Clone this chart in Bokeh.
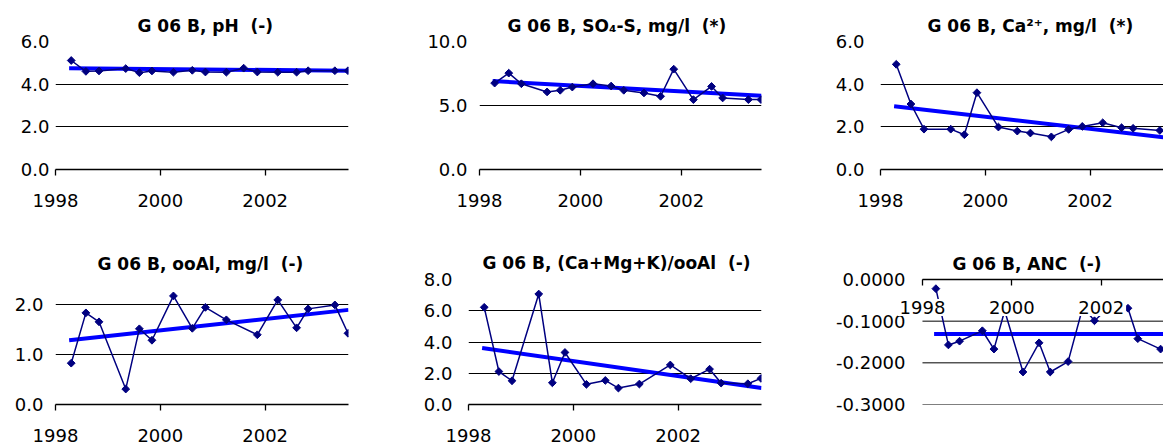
import numpy as np
from bokeh.plotting import figure
from bokeh.layouts import column, row
from bokeh.models import FixedTicker, PrintfTickFormatter, Label, Range1d
from bokeh.embed import file_html
from bokeh.resources import INLINE

FONT = "DejaVu Sans"

# ---------------- data ----------------
x_ticks = [1998, 2000, 2002]
x_tick_labels = ["1998", "2000", "2002"]

dates17 = [1998.30, 1998.58, 1998.83, 1999.34, 1999.60, 1999.84, 2000.25, 2000.61, 2000.86,
           2001.26, 2001.59, 2001.85, 2002.24, 2002.60, 2002.82, 2003.33, 2003.58]
dates16 = [1998.30, 1998.58, 1998.83, 1999.34, 1999.60, 1999.84, 2000.25, 2000.61, 2000.86,
           2001.26, 2001.85, 2002.24, 2002.60, 2002.82, 2003.33, 2003.58]

ph = [5.11, 4.60, 4.62, 4.73, 4.54, 4.62, 4.56, 4.65, 4.57, 4.56, 4.75, 4.57, 4.56, 4.56, 4.63, 4.63, 4.63]
so4s = [6.75, 7.53, 6.70, 6.06, 6.19, 6.44, 6.70, 6.52, 6.19, 5.98, 5.72, 7.84, 5.46, 6.49, 5.59, 5.46, 5.46]
ca = [4.93, 3.07, 1.89, 1.89, 1.63, 3.60, 1.99, 1.80, 1.71, 1.53, 1.88, 2.02, 2.19, 1.96, 1.93, 1.83, 1.80]
ooal = [0.83, 1.84, 1.66, 0.31, 1.52, 1.29, 2.18, 1.53, 1.95, 1.70, 1.40, 2.10, 1.54, 1.92, 2.00, 1.43]
ratio = [6.22, 2.11, 1.52, 7.07, 1.39, 3.33, 1.29, 1.54, 1.05, 1.31, 2.53, 1.65, 2.26, 1.37, 1.33, 1.67]
anc = [-0.022, -0.157, -0.148, -0.123, -0.167, -0.075, -0.222, -0.152, -0.222, -0.197, -0.066,
       -0.099, -0.060, -0.069, -0.142, -0.167, -0.170]

trend_x = [1998.26, 2003.59]
trend_ph = [4.75, 4.63]
trend_so4s = [6.91, 5.77]
trend_ca = [2.96, 1.46]
trend_ooal = [1.29, 1.90]
trend_ratio = [3.61, 1.05]
trend_anc = [-0.131, -0.131]

yticks_ph = [0, 2, 4, 6]
yticks_so4s = [0, 5, 10]
yticks_ca = [0, 2, 4, 6]
yticks_ooal = [0, 1, 2]
yticks_ratio = [0, 2, 4, 6, 8]
yticks_anc = [0, -0.1, -0.2, -0.3]

titles = ["G 06 B, pH \u00a0(-)",
          "G 06 B, SO\u2084-S, mg/l \u00a0(*)",
          "G 06 B, Ca\u00b2\u207a, mg/l \u00a0(*)",
          "G 06 B, ooAl, mg/l \u00a0(-)",
          "G 06 B, (Ca+Mg+K)/ooAl \u00a0(-)",
          "G 06 B, ANC \u00a0(-)"]

NAVY = "#000080"
BLUE = "#0000FF"
X0 = 1998.0


def panel(title, xs, ys, trend, yticks, yfmt, yr, xr, w, h, l, r, t, b,
          ystand, tstand, toff, xabove=False):
    p = figure(width=w, height=h, x_range=Range1d(*xr), y_range=Range1d(*yr),
               output_backend="svg", toolbar_location=None,
               min_border_left=l, min_border_right=r, min_border_top=t, min_border_bottom=b,
               x_axis_location="above" if xabove else "below", title=title)
    p.outline_line_color = None
    p.background_fill_color = "white"
    p.border_fill_color = "white"
    p.title.text_font = FONT
    p.title.text_font_size = "17px"
    p.title.text_font_style = "bold"
    p.title.text_color = "black"
    p.title.align = "left"
    p.title.offset = toff
    p.title.standoff = tstand

    p.xgrid.visible = False
    p.yaxis.ticker = FixedTicker(ticks=yticks)
    p.yaxis.formatter = PrintfTickFormatter(format=yfmt)
    p.yaxis.axis_line_color = None
    p.yaxis.major_tick_line_color = None
    p.yaxis.minor_tick_line_color = None
    p.yaxis.major_tick_out = 0
    p.yaxis.major_label_standoff = ystand
    p.yaxis.major_label_text_font = FONT
    p.yaxis.major_label_text_font_size = "18px"
    p.yaxis.major_label_text_color = "black"
    p.ygrid.grid_line_color = "black"
    p.ygrid.grid_line_width = 1

    p.xaxis.ticker = FixedTicker(ticks=x_ticks)
    p.xaxis.major_label_overrides = dict(zip(x_ticks, x_tick_labels))
    p.xaxis.axis_line_color = "black"
    p.xaxis.axis_line_width = 1.3
    p.xaxis.major_tick_line_color = "black"
    p.xaxis.major_tick_line_width = 1.3
    p.xaxis.minor_tick_line_color = None
    p.xaxis.major_label_text_font = FONT
    p.xaxis.major_label_text_font_size = "18px"
    p.xaxis.major_label_text_color = "black"
    if xabove:
        p.xaxis.bounds = (X0, xr[1])
        p.xaxis.major_tick_in = 6
        p.xaxis.major_tick_out = 0
        p.xaxis.major_label_text_color = None
        p.xaxis.major_label_text_font_size = "1px"
        p.xaxis.major_label_standoff = 0
        # grid lines only over the data span
        p.ygrid.visible = False
        n = len(yticks)
        p.segment(x0=[X0] * n, y0=yticks, x1=[xr[1]] * n, y1=yticks,
                  line_color="black", line_width=1)
    else:
        p.xaxis.major_tick_in = 0
        p.xaxis.major_tick_out = 6
        p.xaxis.major_label_standoff = 18

    p.line(trend_x, trend, line_color=BLUE, line_width=4)
    p.line(xs, ys, line_color=NAVY, line_width=1.5)
    p.scatter(xs, ys, marker="square", angle=np.pi / 4, size=5.5,
              fill_color=NAVY, line_color=NAVY, line_width=1)

    if xabove:
        for xt, lab in zip(x_ticks, x_tick_labels):
            p.add_layout(Label(x=xt, y=0, text=lab, text_align="center",
                               text_baseline="middle", y_offset=-28,
                               text_font=FONT, text_font_size="18px", padding=2,
                               text_color="black", background_fill_color="white"))
    return p


p1 = panel(titles[0], dates17, ph, trend_ph, yticks_ph, "%.1f", (0, 6), (X0, 2003.59),
           390, 220, 55, 42, 41, 51, 6, 11, 82)
p2 = panel(titles[1], dates17, so4s, trend_so4s, yticks_so4s, "%.1f", (0, 10), (X0, 2003.59),
           385, 220, 89, 14, 41, 51, 12, 11, 28)
p3 = panel(titles[2], dates17, ca, trend_ca, yticks_ca, "%.1f", (0, 6), (X0, 2003.40),
           388, 220, 105, 0, 41, 51, 16, 11, 47)
p4 = panel(titles[3], dates16, ooal, trend_ooal, yticks_ooal, "%.1f", (0, 2.51), (X0, 2003.59),
           390, 224, 55, 42, 56, 40, 12, 11, 42)
p5 = panel(titles[4], dates16, ratio, trend_ratio, yticks_ratio, "%.1f", (0, 8), (X0, 2003.59),
           385, 224, 78, 14, 58, 40, 16, 13, 14)
p6 = panel(titles[5], dates17, anc, trend_anc, yticks_anc, "%.4f", (-0.3, 0), (1997.396, 2003.395),
           388, 224, 120, 0, 59, 7, -10, 12, 57, xabove=True)

layout = column(row(p1, p2, p3, spacing=0), row(p4, p5, p6, spacing=0), spacing=0)

with open("out.html", "w") as f:
    f.write(file_html(layout, INLINE))
